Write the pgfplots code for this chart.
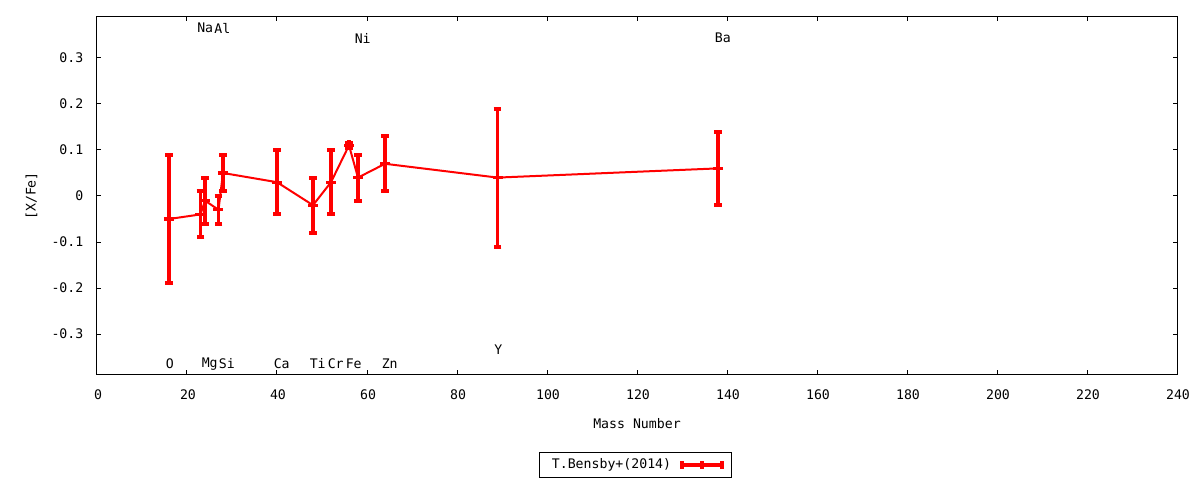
\documentclass[border=0pt]{standalone}
\usepackage{pgfplots}
\pgfplotsset{compat=1.18}
\usepackage{pgfplotstable}
\usepackage{fontspec}
\setmainfont{DejaVu Sans Mono}

% mass number, [X/Fe], error
\pgfplotstableread{
x   y      e
16  -0.05  0.14
23  -0.04  0.05
24  -0.01  0.05
27  -0.03  0.03
28   0.05  0.04
40   0.03  0.07
48  -0.02  0.06
52   0.03  0.07
56   0.11  0.005
58   0.04  0.05
64   0.07  0.06
89   0.04  0.15
138  0.06  0.08
}\bensby

\begin{document}
\begin{tikzpicture}[font=\fontsize{6.6}{7.9}\selectfont]
\path[use as bounding box] (-48.5pt,-52.5pt) rectangle (551.5pt,187.5pt);
\begin{axis}[
    at={(0,0)}, anchor=south west,
    scale only axis,
    width=540pt, height=179pt,
    xmin=0, xmax=240,
    ymin=-0.389, ymax=0.389,
    xtick={0,20,...,240},
    ytick={-0.3,-0.2,-0.1,0,0.1,0.2,0.3},
    yticklabels={-0.3,-0.2,-0.1,0,0.1,0.2,0.3},
    xticklabels={0,20,40,60,80,100,120,140,160,180,200,220,240},
    xtick pos=both, ytick pos=both,
    tick align=inside,
    major tick length=2.25pt,
    tick style={black, line width=0.5pt},
    axis line style={line width=0.5pt},
    xticklabel style={yshift=-4pt, xshift=0.5pt},
    yticklabel style={xshift=-3.3pt},
    xlabel={Mass Number},
    ylabel={[X/Fe]},
    xlabel style={at={(axis description cs:0.5,0)}, anchor=center, yshift=-24.5pt},
    ylabel style={at={(axis description cs:-0.0606,0.5)}, anchor=center},
    legend plot pos=right,
    legend style={at={(axis description cs:0.499,-0.251)}, anchor=center,
        draw=black, line width=0.5pt, inner xsep=4pt, inner ysep=1pt,
        font=\fontsize{6.6}{7.9}\selectfont},
    legend image code/.code={
        \path (0pt,0pt);
        \draw[red, line width=1.8pt] (3pt,0pt) -- (23pt,0pt);
        \draw[red, line width=1.8pt] (3pt,-1.9pt) -- (3pt,1.9pt);
        \draw[red, line width=1.8pt] (13pt,-1.9pt) -- (13pt,1.9pt);
        \draw[red, line width=1.8pt] (23pt,-1.9pt) -- (23pt,1.9pt);
    },
]
\addplot[red, line width=1pt, mark=+, mark size=2.5pt, mark options={line width=1.6pt},
    error bars/.cd, y dir=both, y explicit,
    error bar style={red, line width=1.8pt},
    error mark options={rotate=90, red, mark size=1.9pt, line width=2pt}]
    table[x=x, y=y, y error=e] {\bensby};
\addlegendentry{T.Bensby+(2014)}

% element labels
\begin{scope}[every node/.style={anchor=west, inner sep=0pt}]
\node at (axis cs:15.2,-0.365) {O};
\node at (axis cs:23.2,-0.365) {Mg};
\node at (axis cs:27.0,-0.365) {Si};
\node at (axis cs:39.2,-0.365) {Ca};
\node at (axis cs:47.2,-0.365) {Ti};
\node at (axis cs:51.2,-0.365) {Cr};
\node at (axis cs:55.2,-0.365) {Fe};
\node at (axis cs:63.2,-0.365) {Zn};
\node at (axis cs:22.2,0.365) {Na};
\node at (axis cs:26.0,0.365) {Al};
\node at (axis cs:57.2,0.343) {Ni};
\node at (axis cs:137.2,0.343) {Ba};
\node at (axis cs:88.2,-0.335) {Y};
\end{scope}
\end{axis}
\end{tikzpicture}
\end{document}
